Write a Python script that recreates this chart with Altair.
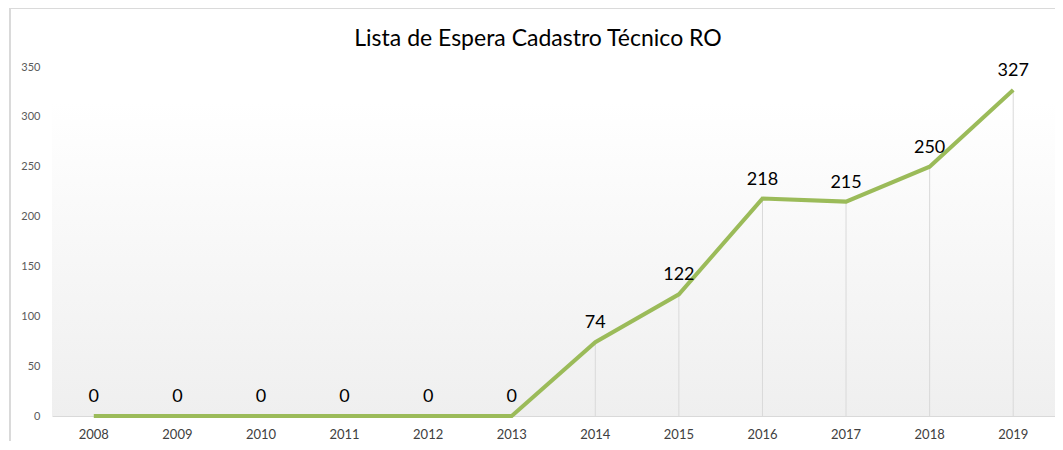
import altair as alt
import pandas as pd

years = ["2008", "2009", "2010", "2011", "2012", "2013",
         "2014", "2015", "2016", "2017", "2018", "2019"]
values = [0, 0, 0, 0, 0, 0, 74, 122, 218, 215, 250, 327]
y_ticks = [0, 50, 100, 150, 200, 250, 300, 350]
title_text = "Lista de Espera Cadastro Técnico RO"

df = pd.DataFrame({"year": years, "value": values})

W, H = 1003, 349
FONT = "Lato"

xenc = alt.X("year:N", sort=years,
             scale=alt.Scale(paddingInner=0, paddingOuter=0),
             axis=alt.Axis(title=None, labelAngle=0, ticks=False,
                           domain=True, domainColor="#d9d9d9",
                           labelFont=FONT, labelFontSize=13,
                           labelColor="#404040", labelPadding=12))
yenc = alt.Y("value:Q", scale=alt.Scale(domain=[0, 350], nice=False),
             axis=alt.Axis(title=None, values=y_ticks, grid=False,
                           ticks=False, domain=False, labelFont=FONT,
                           labelFontSize=11, labelColor="#595959",
                           labelPadding=12))

bg = alt.Chart(df).mark_rect(
    color=alt.Gradient(
        gradient="linear", x1=0, y1=0, x2=0, y2=1,
        stops=[alt.GradientStop(color="#ffffff", offset=0),
               alt.GradientStop(color="#ffffff", offset=0.1),
               alt.GradientStop(color="#efefef", offset=1)]),
).encode(x=alt.value(0), x2=alt.value(W), y=alt.value(0), y2=alt.value(H))

frame = alt.Chart(df).mark_rect(
    fill=None, stroke="#d9d9d9", strokeWidth=1
).encode(x=alt.value(-42), x2=alt.value(W + 20), y=alt.value(-59), y2=alt.value(H + 60))

title = alt.Chart(pd.DataFrame({"t": [title_text]})).mark_text(
    font=FONT, fontSize=23, color="#000000", align="center", baseline="alphabetic"
).encode(x=alt.value(486), y=alt.value(-21), text="t:N")

drops = alt.Chart(df).mark_rule(color="#d9d9d9", strokeWidth=1).encode(
    x=xenc, y=yenc, y2=alt.datum(0))

line = alt.Chart(df).mark_line(color="#9bbb59", strokeWidth=4).encode(
    x=xenc, y=yenc)

labels = alt.Chart(df).mark_text(
    font=FONT, fontSize=18, color="#000000", baseline="bottom", dy=-10
).encode(x=xenc, y=yenc, text=alt.Text("value:Q"))

chart = alt.layer(bg, frame, title, drops, line, labels).properties(
    width=W, height=H,
    autosize=alt.AutoSizeParams(type="none"),
    padding={"left": 44, "top": 59, "right": 0, "bottom": 25},
).configure_view(stroke=None)

chart.save("out.html", embed_options={"renderer": "svg", "actions": False})
